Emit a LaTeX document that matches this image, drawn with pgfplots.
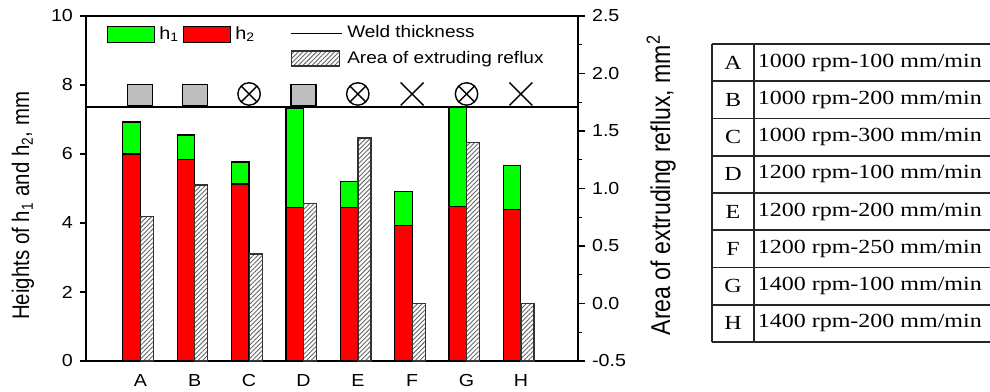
\documentclass[border=0pt]{standalone}
\usepackage{fontspec}
\setmainfont{Liberation Sans}[FakeStretch=1.13]
\newfontfamily\labelfont{Liberation Sans}[FakeStretch=0.85]
\newfontfamily\tablefont{Liberation Serif}[FakeStretch=1.2]
\usepackage{pgfplots}
\usepackage{pgfplotstable}
\pgfplotsset{compat=1.18}
\usetikzlibrary{patterns.meta,plotmarks}

\definecolor{barred}{RGB}{255,0,0}
\definecolor{bargreen}{RGB}{0,255,0}
\definecolor{sqgray}{RGB}{190,190,190}

\pgfplotstableread{
x h2 h1 area
1 6.00 0.93 0.76
2 5.83 0.72 1.03
3 5.13 0.64 0.43
4 4.44 2.89 0.87
5 4.44 0.76 1.44
6 3.92 0.99 0.00
7 4.47 2.88 1.40
8 4.38 1.28 0.00
}\datatable

\pgfplotsset{
  common/.style={
    scale only axis, width=246pt, height=172.5pt,
    xmin=0, xmax=9.05,
    at={(43pt,-180.5pt)}, anchor=south west,
    font=\fontsize{8.7}{10}\selectfont,
    /pgf/number format/assume math mode=true,
    axis line style={line width=0.7pt},
    tick style={line width=0.7pt, black},
    tick align=outside, major tick length=3pt,
  },
}

\begin{document}
\begin{tikzpicture}
\path[use as bounding box] (0pt,0pt) rectangle (495pt,-195.5pt);
\clip (0pt,0pt) rectangle (495pt,-195.5pt);

% left axis: stacked bars
\begin{axis}[common,
  ymin=0, ymax=10, ytick={0,2,...,10}, ytick pos=left,
  xtick={1,2,3,4,5,6,7,8}, xticklabels={A,B,C,D,E,F,G,H},
  major x tick style={draw=none},
  ybar stacked, bar width=8.75pt, bar shift=-4.4pt,
  ylabel={Heights of h\textsubscript{1} and h\textsubscript{2}, mm},
  every axis y label/.style={at={(axis description cs:-0.128,0.45)}, rotate=90, anchor=center, font=\labelfont\fontsize{12}{14}\selectfont},
]
\addplot[fill=barred, draw=black, line width=0.6pt] table[x=x,y=h2]{\datatable};
\addplot[fill=bargreen, draw=black, line width=0.6pt] table[x=x,y=h1]{\datatable};
\end{axis}

% right axis: hatched bars (axis shifted by +0.5 so that bars start at -0.5)
\begin{axis}[common,
  ymin=0, ymax=3, axis y line*=right, axis x line=none,
  ytick={0,0.5,...,3}, yticklabels={-0.5,0.0,0.5,1.0,1.5,2.0,2.5},
  minor ytick={0.25,0.75,...,2.75}, minor tick length=2pt, major tick length=3.5pt,
  ylabel={Area of extruding reflux, mm\textsuperscript{2}},
  every axis y label/.style={at={(axis description cs:1.169,0.51)}, rotate=90, anchor=center, font=\labelfont\fontsize{13.6}{15}\selectfont},
  legend style={at={(0.403,0.996)}, anchor=north west, draw=none, fill=none,
    font=\fontsize{8.4}{9.5}\selectfont, row sep=1pt},
  legend cell align=left,
  legend image code/.code={\draw[#1] (0pt,-3.75pt) rectangle (24pt,3.75pt);},
]
\addlegendimage{legend image code/.code={\draw[black, line width=0.8pt] (0pt,0pt) -- (25.5pt,0pt);}}
\addlegendentry{Weld thickness}
\addplot[ybar, bar width=6.5pt, bar shift=3.3pt, draw=black!80, line width=0.6pt,
  pattern={Lines[angle=45,distance=1.6pt,line width=0.45pt]}, pattern color=black!60]
  table[x=x, y expr=\thisrow{area}+0.5]{\datatable};
\addlegendentry{Area of extruding reflux}
\end{axis}

% overlay: weld line, markers, legend of h1/h2
\begin{axis}[common, hide axis, ymin=0, ymax=10,
  legend style={at={(0.030,0.994)}, anchor=north west, draw=none, fill=none,
    font=\fontsize{8.8}{9.5}\selectfont},
  legend columns=2,
  legend image code/.code={\draw[#1] (0pt,-4pt) rectangle (23.5pt,4pt);},
]
\addlegendimage{fill=bargreen, draw=black, line width=0.6pt}
\addlegendentry{h\textsubscript{1}}
\addlegendimage{fill=barred, draw=black, line width=0.6pt}
\addlegendentry{h\textsubscript{2}}
\addplot[black, line width=0.8pt] coordinates {(0,7.37) (9.05,7.37)};
\addplot[only marks, mark=square*, mark size=5.35pt,
  mark options={xscale=1.17, fill=sqgray, draw=black, line width=0.6pt}]
  coordinates {(1,7.71) (2,7.71) (4,7.71)};
\addplot[only marks, mark=otimes, mark size=5.6pt,
  mark options={draw=black, line width=0.7pt}]
  coordinates {(3,7.74) (5,7.74) (7,7.74)};
\addplot[only marks, mark=x, mark size=8.1pt,
  mark options={draw=black, line width=0.7pt}]
  coordinates {(6,7.74) (8,7.74)};
\end{axis}

% parameter table
\begin{scope}[line width=0.8pt, draw=black!85]
\draw (356pt,-22pt) -- (356pt,-171pt);
\draw (377pt,-22pt) -- (377pt,-171pt);
\foreach \i in {0,...,8} { \draw (356pt,{-22pt-\i*18.625pt}) -- (500pt,{-22pt-\i*18.625pt}); }
\foreach \l/\a/\b [count=\i from 0] in {A/1000/100,B/1000/200,C/1000/300,D/1200/100,E/1200/200,F/1200/250,G/1400/100,H/1400/200} {
  \node[font=\tablefont\fontsize{10}{12}\selectfont, anchor=center, inner sep=0pt] at (366.5pt,{-22pt-(\i+0.5)*18.625pt}) {\l};
  \node[font=\tablefont\fontsize{10}{12}\selectfont, anchor=west, inner sep=0pt] at (378.5pt,{-22pt-(\i+0.5)*18.625pt}) {\a{} rpm-\b{} mm/min};
}
\end{scope}
\end{tikzpicture}
\end{document}
